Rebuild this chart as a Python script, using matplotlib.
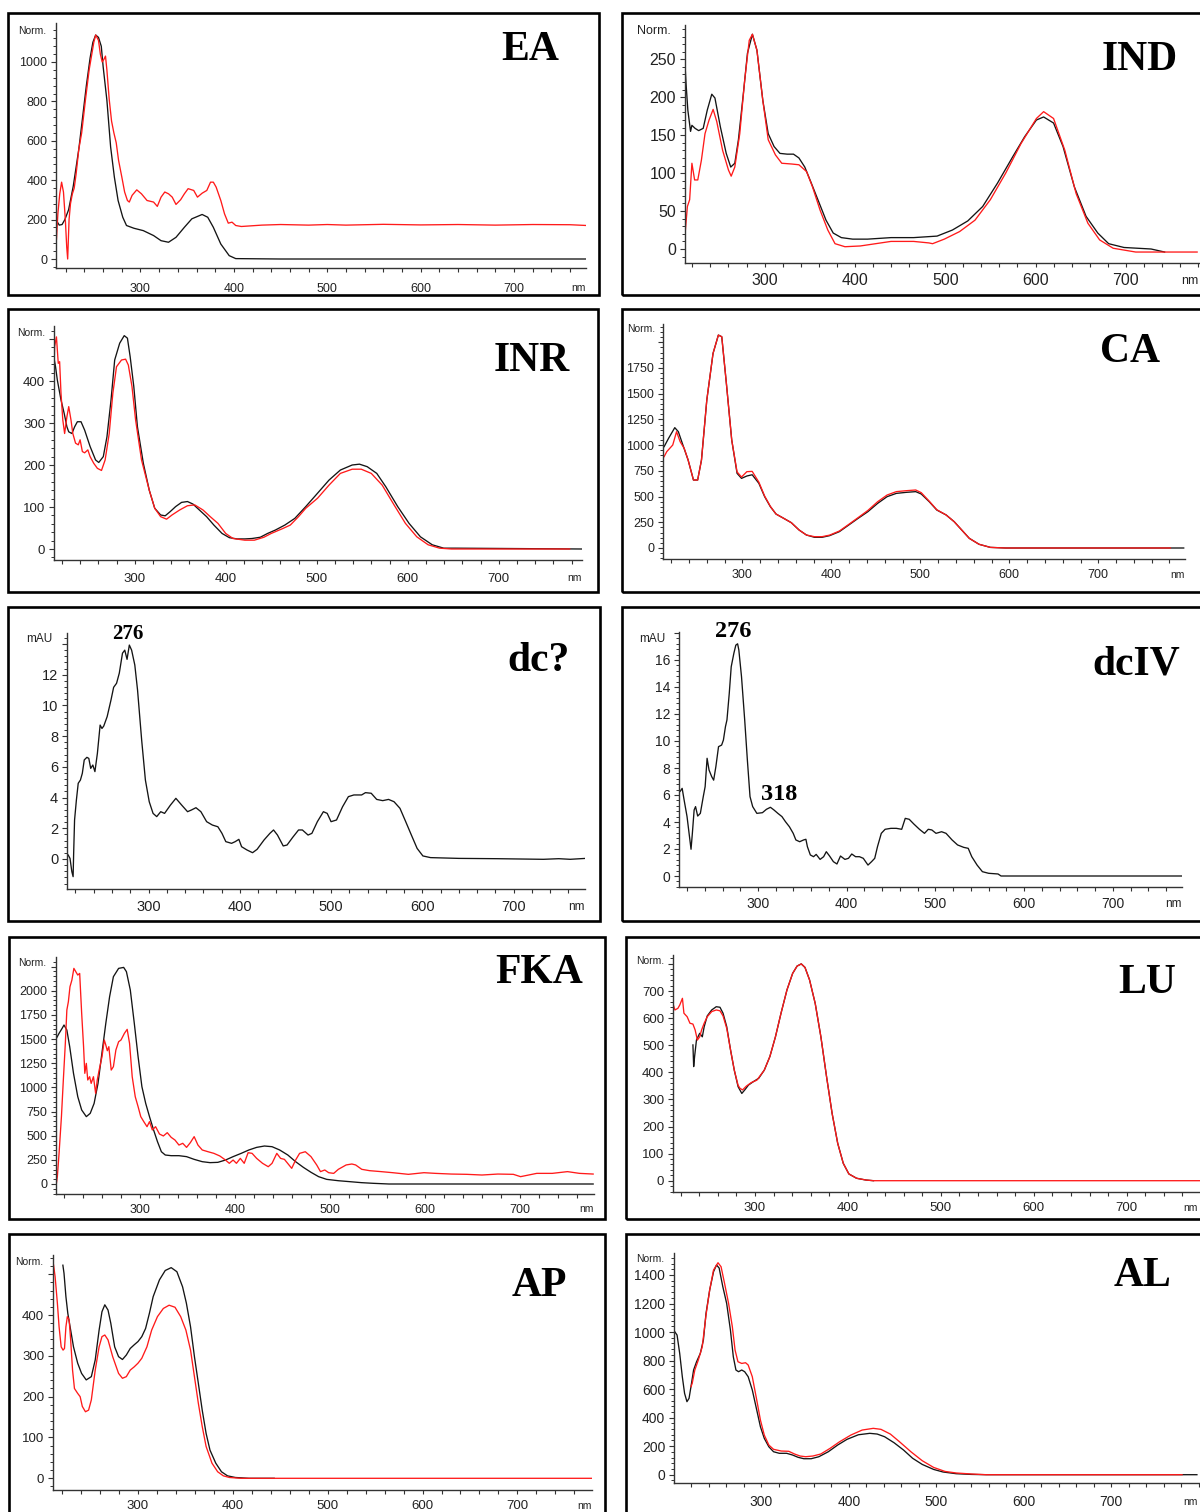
import matplotlib
matplotlib.use("Agg")
import matplotlib.pyplot as plt
from matplotlib.patches import Rectangle
from matplotlib.ticker import MultipleLocator, AutoMinorLocator, FuncFormatter

# UV-Vis spectra (nm, absorbance)
ea_black = [(210, 195), (213, 172), (216, 175), (219, 200), (223, 250), (228, 370), (234, 560), (238, 720),
            (242, 880), (246, 1020), (249, 1100), (252, 1137), (255, 1125), (258, 1080), (260, 976), (264, 806),
            (268, 569), (272, 416), (276, 297), (281, 212), (285, 170), (293, 156), (303, 144), (314, 119),
            (322, 93), (330, 85), (338, 110), (347, 161), (355, 204), (366, 226), (372, 212), (378, 161),
            (386, 76), (395, 17), (402, 2), (450, 0), (550, 0), (650, 0), (778, 0)]
ea_red = [(210, 100), (211.5, 229), (213.5, 330), (215.5, 390), (217.5, 340), (219.5, 200), (221, 60), (222, 0),
          (223.5, 200), (225, 280), (227, 330), (229, 360), (231, 430), (234, 560), (237, 640), (241, 806),
          (245, 960), (248, 1044), (250, 1100), (252, 1137), (255, 1110), (257, 1040), (259, 1000), (261, 1015),
          (262.5, 1030), (264, 960), (266.5, 810), (269, 700), (271.5, 640), (274, 590), (276.5, 501), (280, 416),
          (283, 340), (286, 297), (288, 289), (291, 323), (296, 351), (301, 331), (307, 297), (314, 289),
          (318, 267), (322, 314), (326, 340), (330, 331), (334, 314), (338, 277), (343, 301), (347, 331),
          (351, 357), (357, 348), (361, 314), (366, 334), (371, 348), (375, 390), (378, 390), (381, 365),
          (386, 297), (390, 229), (394, 182), (398, 187), (402, 170), (408, 165), (430, 172), (450, 175),
          (480, 172), (500, 175), (520, 172), (560, 176), (600, 173), (640, 175), (680, 172), (720, 175),
          (760, 174), (778, 170)]

ind_black = [(212, 240), (213, 218), (215, 183), (218, 155), (219.5, 163), (223, 159), (227, 156), (232, 159),
             (236.5, 183), (241.5, 204), (245, 199), (251, 161), (257.5, 126), (262.5, 108), (267, 113), (271, 144),
             (276.5, 205), (281, 258), (286.5, 283), (291.5, 262), (298, 196), (304, 152), (310.5, 135), (317, 126),
             (325, 125), (332, 125), (338, 120), (344.5, 108), (351, 89), (359, 65), (368, 38), (376, 21), (385, 15),
             (397.5, 13), (414, 13), (440, 15), (465, 15), (491, 17), (508, 25), (525, 37), (541.5, 56), (558, 87),
             (575, 122), (588, 148), (601, 170), (609, 174), (620, 166), (630.5, 135), (643, 82), (656, 43),
             (669, 21), (681, 7), (698, 2), (728, 0), (743, -4)]
ind_red = [(212, 21), (214.5, 56), (217, 65), (219.5, 113), (222.5, 91), (226, 91), (230, 117), (234, 152),
           (238.5, 170), (243, 184), (247, 168), (253.5, 130), (260, 104), (263, 96), (267, 108), (272.5, 152),
           (278, 223), (283, 275), (286.5, 283), (291.5, 262), (298, 196), (304, 144), (312, 124), (319, 113),
           (330, 112), (338, 111), (346.5, 102), (353, 82), (361.5, 51), (370, 25), (378, 7), (389, 3), (406, 4),
           (423, 7), (440, 10), (465, 10), (482, 8), (486, 7), (499, 13), (516, 23), (533, 38), (550, 65),
           (567, 100), (584, 139), (601, 172), (609, 181), (620, 172), (632.5, 130), (645, 73), (658, 34),
           (671, 12), (686, 1), (711, -4), (779, -4)]

inr_black = [(211, 458), (213, 434), (215, 402), (219, 355), (222.5, 323), (225.5, 291), (227.5, 279), (231, 275),
             (234, 291), (237, 303), (241, 303), (245, 283), (251, 244), (257, 212), (260.5, 206), (265.5, 220),
             (269.5, 267), (274, 355), (278, 450), (283.5, 490), (288.5, 508), (292, 502), (295, 458), (299, 387),
             (303, 291), (309.5, 204), (316, 140), (322, 97), (328.5, 81), (333.5, 79), (339, 89), (345, 101),
             (351.5, 111), (358, 113), (364, 107), (371, 93), (379, 77), (387, 57), (396, 37), (404, 27),
             (412.5, 24), (421, 24), (429, 25), (438, 28), (446, 37), (454.5, 45), (465, 57), (476, 73), (488, 101),
             (501, 133), (513.5, 164), (526, 188), (539, 200), (547, 202), (555.5, 196), (566, 180), (576, 148),
             (589, 101), (601.5, 61), (614, 29), (627, 10), (639.5, 2), (652, 2), (791, 0)]
inr_red = [(211, 402), (212, 482), (214, 505), (216, 442), (217.5, 446), (219, 371), (221, 307), (223, 275),
           (225.5, 315), (227.5, 339), (230, 307), (232, 275), (235, 252), (238, 248), (240, 260), (242.5, 232),
           (245, 229), (248.5, 236), (251, 220), (255, 204), (259, 192), (263.5, 187), (267.5, 212), (272, 275),
           (276, 371), (280, 434), (285.5, 450), (290, 452), (293, 438), (297, 387), (301, 307), (307.5, 212),
           (316, 140), (322, 97), (328.5, 77), (335, 71), (341, 81), (349.5, 93), (358, 103), (366, 105),
           (375, 93), (383, 77), (391.5, 61), (400, 37), (408, 25), (421, 21), (431.5, 21), (442, 28), (450, 37),
           (463, 49), (471, 57), (480, 77), (488, 97), (501, 121), (513.5, 152), (526, 180), (539, 190),
           (549, 190), (560, 180), (572, 152), (585, 105), (597.5, 61), (610, 29), (622.5, 10), (635, 2),
           (648, 0), (778, 0)]

ca_black = [(212, 985), (217, 1066), (224, 1170), (228, 1131), (232.5, 1017), (239, 855), (245, 661), (249.7, 661),
            (254, 855), (260, 1439), (267, 1892), (273, 2070), (276.8, 2054), (282, 1600), (288, 1050), (294, 726),
            (299, 677), (305, 700), (311, 712), (318.5, 629), (325, 499), (331.4, 402), (337.8, 330), (346.5, 288),
            (355, 246), (363.7, 175), (372, 126), (381, 104), (389.5, 104), (398, 120), (409, 159), (419.6, 224),
            (430, 288), (441, 353), (452, 434), (462.6, 499), (473, 531), (484, 541), (494.8, 548), (501, 525),
            (510, 450), (518.5, 369), (529, 321), (538, 256), (546.5, 175), (555, 94), (566, 36), (578.7, 6),
            (596, 0), (796, 0)]
ca_red = [(212, 888), (215, 937), (221.7, 1001), (226, 1131), (230, 1034), (234.6, 969), (239, 855), (245, 661),
          (249.7, 661), (254, 855), (260, 1439), (267, 1892), (273, 2070), (276.8, 2054), (282, 1600), (288, 1050),
          (294, 740), (299, 690), (305, 742), (311, 745), (318.5, 640), (325, 505), (331.4, 405), (337.8, 330),
          (346.5, 288), (355, 246), (363.7, 175), (372, 126), (381, 110), (389.5, 110), (398, 125), (409, 165),
          (419.6, 230), (430, 295), (441, 365), (452, 450), (462.6, 515), (473, 548), (484, 557), (494.8, 564),
          (501, 538), (510, 455), (518.5, 372), (529, 321), (538, 256), (546.5, 175), (555, 94), (566, 36),
          (578.7, 6), (596, 0), (781, 0)]

dc_black = [(212, 0.26), (214, 0.04), (216, -0.82), (217.4, -1.15), (218, 0.37), (219, 2.54), (221, 3.84),
            (223, 4.93), (225.4, 5.14), (227.5, 5.58), (229.6, 6.45), (232.5, 6.62), (234.6, 6.55), (236.7, 5.9),
            (239, 6.12), (241.3, 5.69), (244, 6.88), (247, 8.72), (249, 8.5), (251, 8.66), (254.7, 9.27),
            (258.9, 10.35), (261.8, 11.18), (265, 11.44), (268, 12.1), (271.5, 13.4), (274, 13.6), (276.5, 13.0),
            (279, 13.93), (281.5, 13.6), (285, 12.63), (288, 11.0), (292.5, 7.75), (296.6, 5.14), (300.8, 3.73),
            (305, 2.97), (309, 2.76), (313.4, 3.08), (317.6, 2.97), (323.9, 3.5), (330, 3.95), (336.5, 3.5),
            (342.8, 3.08), (347, 3.19), (352, 3.34), (357.4, 3.08), (363.7, 2.43), (370, 2.21), (376, 2.1),
            (380.5, 1.67), (384.7, 1.13), (391, 1.02), (395, 1.13), (399, 1.28), (402, 0.8), (407.8, 0.59),
            (414, 0.41), (419, 0.63), (426.6, 1.24), (433, 1.67), (437, 1.89), (441.3, 1.56), (447.6, 0.85),
            (451.8, 0.91), (458, 1.41), (464.4, 1.89), (468.6, 1.89), (474.8, 1.56), (479, 1.67), (485, 2.43),
            (491.6, 3.08), (495.8, 2.97), (500, 2.43), (506, 2.54), (512.6, 3.4), (519, 4.06), (525, 4.17),
            (533.5, 4.17), (537.7, 4.32), (544, 4.28), (550, 3.88), (556.6, 3.8), (563, 3.88), (569, 3.73),
            (575.5, 3.3), (581.8, 2.43), (588, 1.56), (594.3, 0.69), (600.6, 0.2), (609, 0.09), (640, 0.04),
            (682, 0.02), (732.7, -0.02), (749.5, 0.02), (762, -0.02), (779, 0.04)]

dciv_black = [(210, 6.37), (212, 6.25), (214.5, 6.49), (216.7, 5.63), (220, 4.4), (222.3, 3.16), (224.5, 1.98),
              (226, 3.16), (228, 4.89), (229.6, 5.14), (232, 4.44), (235, 4.64), (238.3, 5.88), (240.4, 6.62),
              (242.6, 8.72), (244.8, 7.85), (247.8, 7.36), (250, 7.1), (252.5, 8.1), (255.5, 9.58), (259, 9.7),
              (261, 10.07), (263.3, 11.06), (265, 11.56), (267.6, 13.53), (269.8, 15.5), (272.8, 16.5), (275, 17.1),
              (277, 17.2), (278.4, 16.74), (281.4, 14.77), (285, 11.56), (288, 8.6), (291, 5.88), (294, 5.14),
              (298.7, 4.64), (305, 4.69), (309.5, 4.94), (314, 5.09), (318, 4.89), (322.4, 4.64), (327, 4.4),
              (331, 4.02), (335.4, 3.65), (339.7, 3.16), (342.7, 2.67), (347, 2.54), (351.4, 2.67), (354, 2.72),
              (355.7, 2.17), (359, 1.56), (362.6, 1.43), (365.6, 1.6), (370, 1.23), (374, 1.43), (377, 1.8),
              (380.7, 1.48), (385, 1.06), (389, 0.89), (393, 1.48), (398, 1.23), (402, 1.31), (405.7, 1.63),
              (410, 1.43), (414.4, 1.43), (418.7, 1.31), (424, 0.81), (428, 1.06), (431.6, 1.31), (434.7, 2.17),
              (439, 3.16), (443.3, 3.46), (449.8, 3.53), (456, 3.53), (462, 3.46), (466, 4.27), (470.5, 4.2),
              (475.7, 3.85), (482, 3.46), (487.7, 3.16), (492, 3.46), (496, 3.41), (500.7, 3.16), (507, 3.28),
              (512, 3.16), (518.8, 2.67), (525, 2.3), (532, 2.12), (537, 2.05), (541, 1.43), (547, 0.81),
              (553, 0.32), (560, 0.2), (570.6, 0.15), (574, 0), (777.8, 0)]

fka_black = [(212, 1507), (214.8, 1559), (218, 1610), (220, 1645), (223, 1593), (226, 1421), (230, 1145),
             (234.5, 903), (238.6, 766), (243.5, 697), (247.6, 731), (251.7, 834), (255.8, 1041), (259.9, 1352),
             (264, 1662), (268, 1938), (272, 2145), (277.5, 2231), (282.8, 2241), (285.7, 2197), (289.8, 2007),
             (294, 1662), (298, 1317), (302, 1007), (306, 834), (310, 697), (314.3, 559), (318.4, 438),
             (322.5, 334), (326.6, 300), (332.8, 293), (341, 293), (349, 283), (357, 255), (365.5, 231),
             (373.7, 221), (381.9, 224), (390, 248), (398, 283), (406.5, 317), (414.6, 352), (422.8, 379),
             (431, 393), (439, 386), (447, 352), (455.6, 300), (463.8, 231), (472, 172), (480, 121), (488, 76),
             (496.5, 48), (508.8, 34), (521, 24), (533, 14), (545.6, 7), (562, 0), (777, 0)]
fka_red = [(212, 7), (213, 76), (214.8, 317), (217.3, 697), (219.3, 1076), (221.4, 1455), (223, 1800),
           (224.6, 1886), (226.3, 2041), (228.3, 2110), (230.4, 2231), (232.4, 2197), (234.5, 2162), (236.5, 2179),
           (238.6, 1766), (240.6, 1421), (241.9, 1145), (243.5, 1248), (245, 1076), (247, 1110), (248.6, 1041),
           (251, 1110), (253.3, 938), (255, 1076), (257, 1179), (260, 1317), (262.4, 1490), (264, 1438),
           (265.6, 1379), (267.2, 1421), (269.7, 1179), (272, 1214), (274.6, 1386), (277.5, 1472), (280, 1490),
           (283.6, 1559), (286.5, 1600), (289, 1455), (291.8, 1110), (295, 903), (298, 800), (300.8, 697),
           (304, 645), (307.4, 593), (310, 645), (313, 559), (316.4, 593), (320.5, 517), (324.6, 497),
           (328.7, 531), (332.8, 483), (336.8, 455), (341, 403), (345, 421), (349, 379), (353, 428), (357, 490),
           (361, 403), (365.5, 352), (371.6, 334), (377.8, 317), (384, 290), (390, 248), (394, 214), (398, 248),
           (401.5, 214), (405.6, 265), (409.7, 214), (413.8, 324), (418, 317), (422.8, 265), (429, 214),
           (435, 179), (439, 214), (444, 317), (448, 265), (452, 255), (456, 207), (459.7, 162), (463.8, 248),
           (468, 317), (474, 334), (480, 283), (486, 197), (490, 128), (494.5, 145), (498.6, 117), (503.9, 110),
           (508.8, 152), (517, 197), (523, 207), (527, 197), (533.4, 152), (541.6, 138), (553.8, 128),
           (566, 117), (582.5, 100), (598.9, 117), (611, 110), (627.5, 103), (644, 100), (660, 93),
           (676.7, 103), (693, 100), (700.6, 76), (717.6, 110), (734, 110), (750, 128), (762.6, 110), (777, 103)]

lu_black = [(233.2, 501), (234, 421), (235, 458), (237, 519), (240.5, 544), (243.3, 531), (245.3, 568),
            (248.6, 608), (253.4, 630), (258.3, 642), (262.3, 640), (265.6, 618), (269.6, 568), (273.7, 482),
            (277.7, 408), (281.8, 347), (285.8, 322), (289, 335), (293, 353), (298, 365), (304, 378), (310, 408),
            (316, 458), (322, 531), (328, 618), (334.4, 704), (340.5, 765), (345.3, 792), (349.8, 800),
            (353.8, 787), (358.7, 741), (364.8, 654), (370.9, 531), (377, 384), (383, 248), (389, 138), (395, 64),
            (401, 25), (409.3, 9), (419.4, 2.5), (427.5, 0)]
lu_red = [(211, 661), (213.8, 630), (217, 636), (219, 648), (221.9, 673), (223.5, 618), (227, 605), (230, 581),
          (233.2, 578), (235.6, 556), (238, 519), (240.5, 531), (242.5, 556), (245.3, 581), (248.6, 605),
          (253.4, 624), (258.3, 630), (262.3, 627), (265.6, 608), (269.6, 562), (273.7, 482), (277.7, 408),
          (281.8, 352), (283.8, 341), (286.6, 335), (290.7, 349), (296, 362), (302, 371), (310, 408), (316, 458),
          (322, 531), (328, 618), (334.4, 704), (340.5, 765), (345.3, 792), (349.8, 800), (353.8, 787),
          (358.7, 741), (364.8, 654), (370.9, 531), (377, 384), (383, 248), (389, 138), (395, 64), (401, 25),
          (409.3, 9), (419.4, 2.5), (427.5, 0), (790, 0)]

ap_black = [(220.8, 522), (222, 502), (224, 445), (226, 404), (229, 363), (232, 322), (236.4, 282), (240.5, 257),
            (245.4, 241), (250.8, 249), (254.9, 290), (259, 363), (262, 408), (265, 425), (268.4, 412),
            (271.3, 380), (275.4, 322), (279.5, 298), (283.6, 291), (287.7, 302), (291.8, 318), (296, 327),
            (300, 335), (304, 347), (308, 367), (312, 404), (316, 445), (322.6, 486), (328.7, 509), (335, 516),
            (341, 506), (347, 469), (351, 429), (355.4, 371), (359.5, 298), (363.6, 233), (367.7, 167),
            (371.8, 110), (375.9, 69), (382, 37), (388, 16), (394.4, 6), (402.6, 2), (417, 0), (443.6, 0)]
ap_red = [(211, 522), (212.6, 494), (215, 429), (216.8, 371), (219, 322), (221, 314), (222.5, 318), (224, 371),
          (225.5, 396), (227.4, 388), (229, 339), (231, 265), (233, 220), (236.4, 208), (239, 200), (241.3, 176),
          (244.6, 163), (247.9, 167), (250.8, 192), (254.9, 265), (259, 322), (262, 347), (265, 351),
          (268.4, 339), (273.3, 298), (279.5, 257), (283.6, 245), (287.7, 249), (291.8, 265), (296, 273),
          (300, 282), (304, 294), (309.4, 322), (314.4, 363), (320.5, 396), (326.7, 416), (332.8, 424),
          (339, 419), (345, 396), (350.5, 363), (355.4, 314), (359.5, 249), (363.6, 184), (367.7, 127),
          (371.8, 78), (378, 37), (384, 16), (390, 6), (396.4, 2), (408.7, 0), (778, 0)]

al_black = [(201, 1003), (203.7, 979), (206.7, 851), (209.7, 687), (212.3, 570), (215, 512), (217.4, 535),
            (219.6, 617), (222.6, 734), (226, 792), (230.3, 851), (233.8, 944), (236.8, 1131), (241, 1295),
            (245.4, 1423), (248.8, 1470), (251.8, 1449), (256, 1318), (260.4, 1201), (264.7, 1014), (268, 827),
            (271, 734), (274, 722), (277.6, 734), (281, 722), (285, 687), (289.7, 594), (294.8, 453), (299, 336),
            (303.4, 255), (308.6, 196), (314, 161), (320.6, 150), (329, 150), (335.7, 138), (342, 122),
            (348.6, 112), (357, 112), (365.8, 126), (376.6, 161), (387.3, 208), (398, 248), (411, 280), (424, 290),
            (432.5, 285), (441, 266), (451.8, 224), (462.6, 173), (473, 115), (484, 72), (497, 37), (507.7, 19),
            (522.8, 7), (540, 2), (557, 0), (798, 0)]
al_red = [(219.6, 617), (221, 640), (224, 734), (228, 804), (232.5, 897), (236.8, 1119), (241, 1295),
          (245.4, 1435), (250.5, 1486), (254, 1458), (258, 1341), (262.6, 1201), (266.9, 1037), (270, 874),
          (273.3, 792), (277.6, 780), (282, 785), (285, 769), (289.7, 687), (294.8, 523), (299, 383), (303.4, 278),
          (308.6, 208), (314, 178), (322.8, 166), (331.4, 164), (338, 145), (344.3, 131), (350.7, 126), (359, 131),
          (368, 145), (378.7, 185), (389.5, 231), (402.4, 278), (415.3, 313), (428, 325), (436.8, 318),
          (447.5, 285), (458, 231), (471, 161), (484, 98), (497, 51), (510, 23), (522.8, 12), (540, 5), (557, 0),
          (781, 0)]

# peak labels
dc_peaks = [("276", 277.5, 14.33)]
dciv_peaks = [("276", 272.5, 17.7), ("318", 323.6, 5.63)]

W, H = 1200, 1512
BLACK = "#141414"
RED = "#ff1a1a"
SANS = ["Liberation Sans", "DejaVu Sans"]
SERIF = ["Liberation Serif", "DejaVu Serif"]

# layout in pixels: axes box, calibration points (value, pixel), frame box, title anchor ...
panels = [
    dict(name="EA", box=(56, 23, 586, 268), xcal=((300, 140.5), (700, 514)), ycal=((0, 259), (1000, 62)),
         ystep=200, ymax_lab=1000, frame=(8, 13, 599, 295), title=(559, 60), unit="Norm.", unit_xy=(46, 30.5),
         ufs=7.5, fs=9, xpad=7.5, series=[ea_black, ea_red], peaks=[]),
    dict(name="IND", box=(685, 25, 1200, 263), xcal=((300, 764.6), (700, 1125.8)), ycal=((0, 249), (250, 59.3)),
         ystep=50, ymax_lab=250, frame=(622, 13, 1210, 295), title=(1178, 70), unit="Norm.", unit_xy=(671, 30.5),
         ufs=9, fs=11.5, xpad=4.5, series=[ind_black, ind_red], peaks=[]),
    dict(name="INR", box=(54, 326, 582, 560), xcal=((300, 134.7), (700, 498.7)), ycal=((0, 549), (400, 381)),
         ystep=100, ymax_lab=400, frame=(8, 309, 598, 592), title=(570, 371), unit="Norm.", unit_xy=(45, 333),
         ufs=7.5, fs=9.5, xpad=6, series=[inr_black, inr_red], peaks=[]),
    dict(name="CA", box=(663, 324, 1185, 559), xcal=((300, 742.4), (700, 1098.3)), ycal=((0, 548), (1750, 368)),
         ystep=250, ymax_lab=1750, frame=(622, 309, 1210, 592), title=(1160, 362), unit="Norm.",
         unit_xy=(655, 329.5), ufs=7.5, fs=9, xpad=4.5, series=[ca_black, ca_red], peaks=[]),
    dict(name="dc?", box=(67, 633, 585, 889), xcal=((300, 148.5), (700, 513.6)), ycal=((0, 859), (12, 674.7)),
         ystep=2, ymax_lab=12, frame=(8, 607, 600, 921), title=(570, 671), unit="mAU", unit_xy=(52, 639.5),
         ufs=8.5, fs=10.5, xpad=5, series=[dc_black], peaks=dc_peaks, pfs=15),
    dict(name="dcIV", box=(679, 632, 1182, 887), xcal=((300, 758), (700, 1112.8)), ycal=((0, 876), (16, 660)),
         ystep=2, ymax_lab=16, frame=(622, 607, 1210, 921), title=(1180, 674), unit="mAU", unit_xy=(665, 639.5),
         ufs=8.5, fs=10, xpad=4.5, series=[dciv_black], peaks=dciv_peaks, pfs=17.5),
    dict(name="FKA", box=(56, 957, 594, 1194), xcal=((300, 140), (700, 520)), ycal=((0, 1184), (2000, 990.7)),
         ystep=250, ymax_lab=2000, frame=(9, 937, 605, 1219), title=(583, 983), unit="Norm.", unit_xy=(46.5, 962.5),
         ufs=7.5, fs=9, xpad=4, series=[fka_black, fka_red], peaks=[]),
    dict(name="LU", box=(673, 955, 1205, 1192), xcal=((300, 755), (700, 1126.7)), ycal=((0, 1180.7), (700, 991)),
         ystep=100, ymax_lab=700, frame=(626, 937, 1210, 1219), title=(1176, 993), unit="Norm.",
         unit_xy=(664, 961), ufs=7.5, fs=9.5, xpad=4.5, series=[lu_black, lu_red], peaks=[]),
    dict(name="AP", box=(53, 1255, 592, 1490), xcal=((300, 138), (700, 517.4)), ycal=((0, 1478.3), (400, 1315)),
         ystep=100, ymax_lab=400, frame=(9, 1234, 605, 1525), title=(567, 1296), unit="Norm.",
         unit_xy=(43.6, 1262), ufs=7.5, fs=9.5, xpad=4.5, series=[ap_black, ap_red], peaks=[]),
    dict(name="AL", box=(674, 1253, 1205, 1483), xcal=((300, 761.3), (700, 1111.2)), ycal=((0, 1474.7), (1400, 1275)),
         ystep=200, ymax_lab=1400, frame=(626, 1234, 1210, 1525), title=(1171, 1286), unit="Norm.",
         unit_xy=(664.6, 1259), ufs=7.5, fs=10, xpad=6, series=[al_black, al_red], peaks=[]),
]


def px_to_val(cal, p):
    (v0, p0), (v1, p1) = cal
    return v0 + (p - p0) * (v1 - v0) / (p1 - p0)


fig = plt.figure(figsize=(W / 100, H / 100), dpi=100)
fig.patch.set_facecolor("white")

for p in panels:
    x0, y0, x1, y1 = p["box"]
    ax = fig.add_axes([x0 / W, 1 - y1 / H, (x1 - x0) / W, (y1 - y0) / H])
    ax.set_xlim(px_to_val(p["xcal"], x0), px_to_val(p["xcal"], x1))
    ax.set_ylim(px_to_val(p["ycal"], y1), px_to_val(p["ycal"], y0))

    for s, col in zip(p["series"], [BLACK, RED]):
        nm = [a for a, b in s]
        val = [b for a, b in s]
        ax.plot(nm, val, color=col, lw=0.95)

    for sp in ["top", "right"]:
        ax.spines[sp].set_visible(False)
    for sp in ["left", "bottom"]:
        ax.spines[sp].set_linewidth(1.0)
        ax.spines[sp].set_color("#333333")

    ax.xaxis.set_major_locator(MultipleLocator(100))
    ax.xaxis.set_minor_locator(MultipleLocator(20))
    ax.xaxis.set_major_formatter(FuncFormatter(lambda v, pos: f"{v:.0f}" if 300 <= v <= 700 else ""))
    ymx = p["ymax_lab"]
    ax.yaxis.set_major_locator(MultipleLocator(p["ystep"]))
    ax.yaxis.set_minor_locator(AutoMinorLocator(5))
    ax.yaxis.set_major_formatter(FuncFormatter(lambda v, pos, m=ymx: f"{v:g}" if -1e-9 <= v <= m + 1e-9 else ""))

    ax.tick_params(axis="x", which="both", direction="out", length=3, width=0.8, color="#333333",
                   labelsize=p["fs"], pad=p["xpad"], labelcolor="#222222")
    ax.tick_params(axis="y", which="major", direction="out", length=3.8, width=0.8, color="#333333",
                   labelsize=p["fs"], pad=2.5, labelcolor="#222222")
    ax.tick_params(axis="y", which="minor", direction="out", length=2.2, width=0.7, color="#333333")
    for lab in ax.get_xticklabels() + ax.get_yticklabels():
        lab.set_fontfamily(SANS)

    # "nm" unit at the right end of the x axis, kept inside the picture
    nm_x = min(1.0, (W - 2 - x0) / (x1 - x0))
    ax.annotate("nm", xy=(nm_x, 0), xycoords="axes fraction", xytext=(0, -(p["xpad"] + 3 + p["fs"] * 0.45)),
                textcoords="offset points", ha="right", va="center", fontsize=p["ufs"], family=SANS,
                color="#222222", annotation_clip=False)

    for txt, xv, yv in p["peaks"]:
        ax.text(xv, yv, txt, ha="center", va="baseline", fontsize=p["pfs"], fontweight="bold",
                family=SERIF, color="black")

    ux, uy = p["unit_xy"]
    fig.text(ux / W, 1 - uy / H, p["unit"], ha="right", va="center", fontsize=p["ufs"], family=SANS,
             color="#222222")

    tx, ty = p["title"]
    fig.text(tx / W, 1 - ty / H, p["name"], ha="right", va="baseline", fontsize=30, fontweight="bold",
             family=SERIF, color="black")

    fx0, fy0, fx1, fy1 = p["frame"]
    fig.add_artist(Rectangle((fx0 / W, 1 - fy1 / H), (fx1 - fx0) / W, (fy1 - fy0) / H,
                             transform=fig.transFigure, fill=False, lw=1.9, ec="black"))

fig.savefig("out.png", dpi=100, facecolor="white")
